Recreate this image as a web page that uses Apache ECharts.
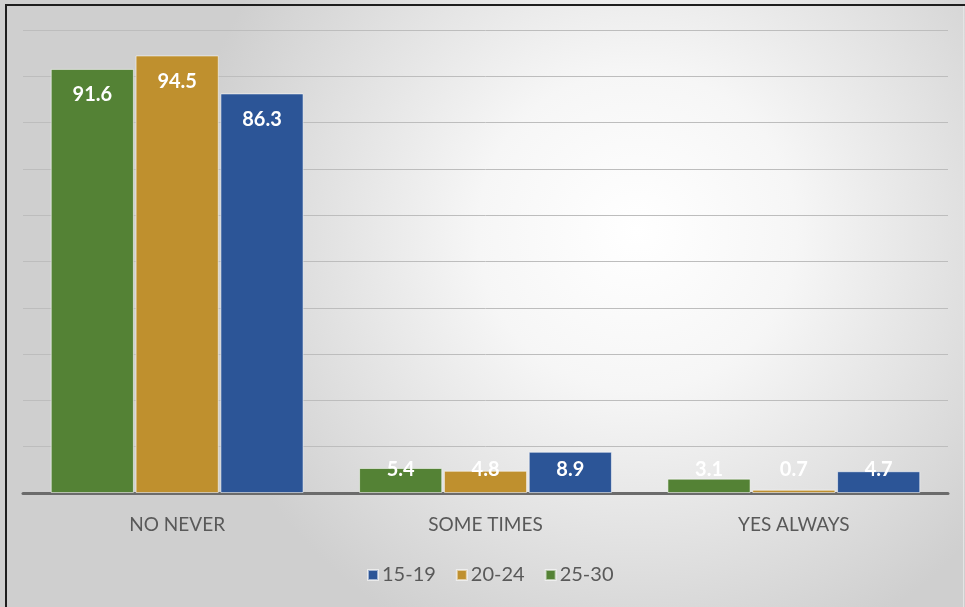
<!DOCTYPE html>
<html>
<head>
<meta charset="utf-8">
<style>
  html, body { margin: 0; padding: 0; }
  #chart { width: 965px; height: 607px; }
</style>
<script src="https://cdn.jsdelivr.net/npm/echarts@6/dist/echarts.min.js"></script>
</head>
<body>
<div id="chart"></div>
<script>
// Answer categories and the share (%) of each age group
const categories = ['NO NEVER', 'SOME TIMES', 'YES ALWAYS'];
const age25to30 = [91.6, 5.4, 3.1];
const age20to24 = [94.5, 4.8, 0.7];
const age15to19 = [86.3, 8.9, 4.7];
const legendOrder = ['15-19', '20-24', '25-30'];

const FONT = 'Lato, "Open Sans", sans-serif';
const seriesDefs = [
  { name: '25-30', data: age25to30, color: '#548235' },
  { name: '20-24', data: age20to24, color: '#bf902e' },
  { name: '15-19', data: age15to19, color: '#2c5597' }
];

const LABEL_DIST = 16;
const chart = echarts.init(document.getElementById('chart'), null, { renderer: 'canvas' });

function buildSeries(offsets) {
  return seriesDefs.map((s, si) => ({
    name: s.name,
    type: 'bar',
    barGap: '2%',
    barCategoryGap: '18%',
    itemStyle: { color: s.color, borderColor: 'rgba(255,255,255,0.55)', borderWidth: 1 },
    label: {
      show: true,
      position: 'insideTop',
      distance: LABEL_DIST,
      color: '#ffffff',
      fontFamily: FONT,
      fontWeight: 'bold',
      fontSize: 20,
      formatter: p => p.value.toFixed(1)
    },
    data: s.data.map((v, i) => ({
      value: v,
      label: { offset: [0, offsets ? offsets[si][i] : 0] }
    }))
  }));
}

const option = {
  backgroundColor: {
    type: 'radial', x: 0.66, y: 0.38, r: 0.75,
    colorStops: [
      { offset: 0, color: '#ffffff' },
      { offset: 0.35, color: '#f6f6f6' },
      { offset: 1, color: '#cfcfcf' }
    ]
  },
  animation: false,
  grid: { left: 23, right: 17, top: 30, bottom: 114, containLabel: false },
  legend: {
    data: legendOrder,
    bottom: 17,
    left: 362,
    itemWidth: 10,
    itemHeight: 10,
    itemGap: 20,
    icon: 'rect',
    textStyle: { color: '#595959', fontFamily: FONT, fontSize: 20, padding: [0, 0, 0, -1] }
  },
  xAxis: {
    type: 'category',
    data: categories,
    axisLine: { lineStyle: { color: '#6b6b6b', width: 3 } },
    axisTick: { show: false },
    axisLabel: { color: '#595959', fontFamily: FONT, fontSize: 19, margin: 22 }
  },
  yAxis: {
    type: 'value',
    min: 0, max: 100, interval: 10,
    axisLabel: { show: false },
    axisLine: { show: false },
    axisTick: { show: false },
    splitLine: { lineStyle: { color: '#bdbdbd', width: 1 } }
  },
  graphic: [
    { type: 'rect', shape: { x: 5, y: 4, width: 2, height: 607 }, style: { fill: '#1e1e1e' }, z: 100 },
    { type: 'rect', shape: { x: 5, y: 4, width: 960, height: 2 }, style: { fill: '#1e1e1e' }, z: 100 },
    { type: 'rect', shape: { x: 963, y: 6, width: 1, height: 601 }, style: { fill: '#e4e4e4' }, z: 100 }
  ],
  series: buildSeries(null)
};
chart.setOption(option);

// Keep value labels inside the plot: a label sits near the top of its bar,
// but never lower than a fixed distance above the category axis.
const offsets = seriesDefs.map(s => s.data.map((v, i) => {
  const top = chart.convertToPixel({ gridIndex: 0 }, [i, v])[1];
  const base = chart.convertToPixel({ gridIndex: 0 }, [i, 0])[1];
  const labelTop = top + LABEL_DIST;
  const maxTop = base - 33;
  return Math.min(labelTop, maxTop) - labelTop;
}));
chart.setOption({ series: buildSeries(offsets) });
</script>
</body>
</html>
